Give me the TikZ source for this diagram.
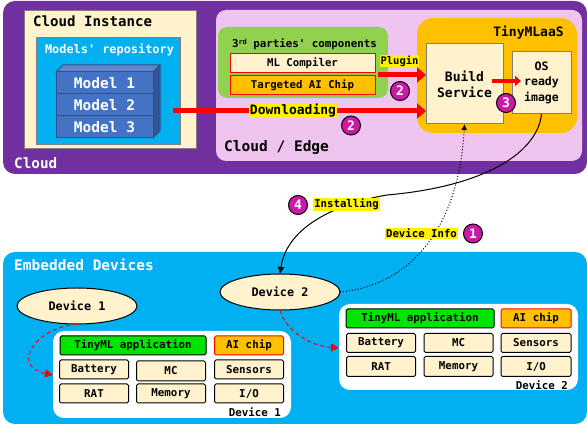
\documentclass[tikz,border=0pt]{standalone}
\usepackage{fontspec}
\setmonofont{DejaVu Sans Mono}
\usetikzlibrary{arrows.meta,shapes.geometric}
\newcommand{\fsz}[1]{\fontsize{#1}{#1}\selectfont\ttfamily\bfseries}
\definecolor{cloudpurple}{RGB}{112,48,160}
\definecolor{edgepink}{RGB}{239,197,239}
\definecolor{paleyellow}{RGB}{255,242,204}
\definecolor{skyblue}{RGB}{0,176,240}
\definecolor{leafgreen}{RGB}{146,208,80}
\definecolor{amber}{RGB}{255,192,0}
\definecolor{modelblue}{RGB}{68,114,196}
\definecolor{modeledge}{RGB}{47,82,143}
\definecolor{stepmagenta}{RGB}{204,25,168}
\tikzset{
  greybox/.style={draw=gray,line width=1pt,fill=paleyellow,inner sep=0pt,outer sep=0pt},
  redbox/.style={draw=red,line width=1pt,inner sep=0pt,outer sep=0pt,font=\fsz{10.7}},
  modelbox/.style={draw=modeledge,line width=1pt,fill=modelblue,text=white,minimum width=97pt,minimum height=22pt,inner sep=0pt,outer sep=0pt,font=\fsz{14.5}},
  partbox/.style={draw=black,line width=1pt,rounded corners=1.5pt,fill=paleyellow,minimum width=69pt,minimum height=19pt,inner sep=0pt,outer sep=0pt,font=\fsz{10.8}},
  device/.style={ellipse,draw=black,line width=1pt,fill=paleyellow,minimum width=120pt,minimum height=36pt,inner sep=0pt,outer sep=0pt,font=\fsz{11.8}},
  stepmark/.style={circle,draw=black,line width=1pt,fill=stepmagenta,text=white,minimum size=19pt,inner sep=0pt,font=\fsz{13}},
  hilite/.style={fill=yellow,inner sep=1pt,font=\fsz{10.7}},
  plain/.style={inner sep=0pt,font=\fsz{#1}},
  fatarrow/.style={draw=red,line width=5pt,-{Triangle[length=9pt,width=15pt]}},
  dashedred/.style={draw=red,line width=1pt,dash pattern=on 4pt off 3pt,-{Triangle[length=8pt,width=8pt]}}
}
\begin{document}
\begin{tikzpicture}[x=1pt,y=-1pt]
\useasboundingbox (0,0) rectangle (587,427);
% cloud side
\fill[cloudpurple,rounded corners=12pt] (3,1) rectangle (587,174);
\draw[greybox] (24,11) rectangle (196,149);
\draw[draw=gray,line width=1pt,fill=skyblue] (36,38) rectangle (180,145);
\node[plain=14.1,anchor=west] (cloudinst) at (33,21) {Cloud Instance};
\node[plain=11.9,text=white] (repolabel) at (109.5,50) {Models' repository};
\node[plain=14.3,text=white,anchor=west] (cloudlabel) at (14,163) {Cloud};
% stack of models
\fill[modelblue!85!white,draw=modeledge,line width=1pt] (56,72) -- (63,65) -- (160,65) -- (153,72) -- cycle;
\fill[modeledge!90!modelblue,draw=modeledge,line width=1pt] (153,72) -- (160,65) -- (160,131) -- (153,138) -- cycle;
\node[modelbox] (model1) at (104.5,83) {Model 1};
\node[modelbox] (model2) at (104.5,105) {Model 2};
\node[modelbox] (model3) at (104.5,127) {Model 3};
% cloud / edge
\fill[edgepink,rounded corners=10pt] (216,10) rectangle (582,161);
\node[plain=14.5,anchor=west] (edgelabel) at (224,147) {Cloud / Edge};
\fill[leafgreen,rounded corners=9pt] (218,27) rectangle (388,98);
\node[plain=10.8] (parties) at (304.5,44.5) {3\raisebox{3pt}{\fsz{7}rd} parties' components};
\node[redbox,fill=paleyellow,minimum width=145pt,minimum height=19pt] (compiler) at (302.5,63.5) {ML Compiler};
\node[redbox,fill=amber,minimum width=145pt,minimum height=19pt] (aichip) at (302.5,85.5) {Targeted AI Chip};
\fill[amber,rounded corners=16pt] (417,18) rectangle (577,133);
\node[plain=13] (tinylabel) at (528.5,32.5) {TinyMLaaS};
\node[greybox,minimum width=77pt,minimum height=80pt,align=center,font=\fsz{13}] (build) at (464.5,84) {Build\\[3pt]Service};
\node[greybox,minimum width=59pt,minimum height=62pt,align=center,font=\fsz{11.6}] (osimage) at (541.5,83) {OS\\[3pt]ready\\[3pt]image};
% arrows
\coordinate (dlstart) at (173,111);
\coordinate (plugstart) at (378,75);
\coordinate (osout) at (492,81);
\coordinate (osin) at (521,81);
\draw[fatarrow] (dlstart) -- (build.west |- dlstart);
\draw[fatarrow] (plugstart) -- (build.west |- plugstart);
\draw[draw=red,line width=3.5pt,-{Triangle[length=6pt,width=10pt]}] (osout) -- (osin);
\node[hilite,inner sep=0.5pt,font=\fsz{13}] (dllabel) at (293,111) {Downloading};
\node[hilite,inner sep=0.5pt,font=\fsz{10.5}] (pluglabel) at (399.5,61) {Plugin};
% embedded side
\fill[skyblue,rounded corners=12pt] (3,252) rectangle (587,424);
\node[plain=14.5,text=white,anchor=west] (emblabel) at (14,265) {Embedded Devices};
\node[device] (dev1) at (77,306) {Device 1};
\node[device] (dev2) at (280,292) {Device 2};
\fill[white,rounded corners=11pt] (53,331) rectangle (291,418);
\fill[white,rounded corners=11pt] (339,304) rectangle (578,390);
% device 1 parts
\node[partbox,fill=green!90!black,minimum width=146pt] (app1) at (133,345.5) {TinyML application};
\node[partbox,draw=red,fill=amber] (chip1) at (249,345.5) {AI chip};
\node[partbox] (bat1) at (94,369.5) {Battery};
\node[partbox,minimum height=20pt] (mc1) at (171,371) {MC};
\node[partbox] (sens1) at (249,369.5) {Sensors};
\node[partbox] (rat1) at (94,393.5) {RAT};
\node[partbox] (mem1) at (171,393.5) {Memory};
\node[partbox] (io1) at (249,393.5) {I/O};
\node[plain=10.8,anchor=east] (name1) at (281,412) {Device 1};
% device 2 parts
\node[partbox,fill=green!90!black,minimum width=148pt] (app2) at (420,318.5) {TinyML application};
\node[partbox,draw=red,fill=amber,minimum width=70pt] (chip2) at (536,318.5) {AI chip};
\node[partbox] (bat2) at (381,343) {Battery};
\node[partbox] (mc2) at (458.5,343) {MC};
\node[partbox,minimum width=70pt] (sens2) at (536,343) {Sensors};
\node[partbox,minimum height=20pt] (rat2) at (381,366.5) {RAT};
\node[partbox,minimum height=20pt] (mem2) at (458.5,366.5) {Memory};
\node[partbox,minimum width=70pt,minimum height=20pt] (io2) at (536,366.5) {I/O};
\node[plain=10.8,anchor=east] (name2) at (568,385) {Device 2};
% connectors
\coordinate (panel1in) at (53,375);
\coordinate (panel2in) at (339,348);
\draw[dashedred] (dev1.south) .. controls (35,328) and (10,366) .. (panel1in);
\draw[dashedred] (dev2.south) .. controls (285,330) and (310,346) .. (panel2in);
\draw[black,line width=1pt,-{Latex[length=7pt,width=7pt]}] (osimage.south) .. controls (538,150) and (490,186) .. (387,195) .. controls (340,203) and (287,225) .. (dev2.north);
\draw[black,line width=1pt,dotted,-{Latex[length=6pt,width=6pt]}] (dev2.east) .. controls (400,287) and (458,240) .. (build.south);
\node[hilite] (instlabel) at (346.5,204.5) {Installing};
\node[hilite] (infolabel) at (421.5,233.5) {Device Info};
\node[stepmark] (mark1) at (473,233.5) {1};
\node[stepmark] (mark2a) at (400,91) {2};
\node[stepmark] (mark2b) at (351,125.5) {2};
\node[stepmark] (mark3) at (506,103) {3};
\node[stepmark] (mark4) at (298,205) {4};
\end{tikzpicture}
\end{document}
